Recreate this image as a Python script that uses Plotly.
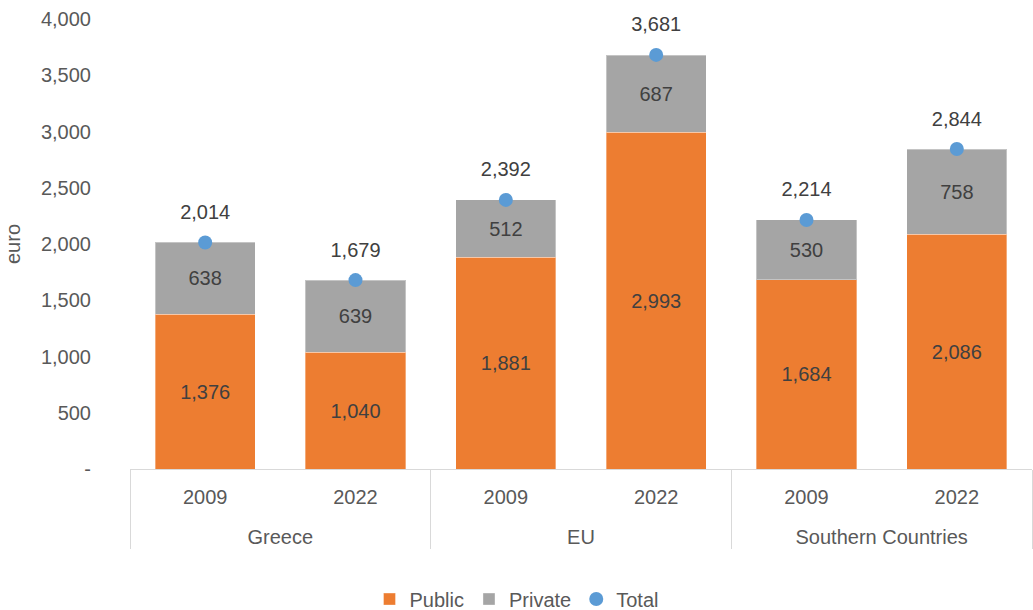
import plotly.graph_objects as go

# Spending per capita, euro
regions = ["Greece", "Greece", "EU", "EU", "Southern Countries", "Southern Countries"]
years = ["2009", "2022", "2009", "2022", "2009", "2022"]
public = [1376, 1040, 1881, 2993, 1684, 2086]
private = [638, 639, 512, 687, 530, 758]
total = [2014, 1679, 2392, 3681, 2214, 2844]

y_ticks = [0, 500, 1000, 1500, 2000, 2500, 3000, 3500, 4000]
y_tick_text = ["-", "500", "1,000", "1,500", "2,000", "2,500", "3,000", "3,500", "4,000"]

FONT = "Liberation Sans, Arial, sans-serif"
SIZE = 20
LABEL = "#404040"
AXIS_TEXT = "#595959"

# region names sit one line lower, under the year row
x = [["<br>" + r for r in regions], years]

fig = go.Figure()
fig.add_trace(go.Bar(
    x=x, y=public, name="Public",
    marker=dict(color="#ED7D31", line=dict(color="rgba(255,255,255,0.35)", width=1)),
    text=[f"{v:,}" for v in public], textposition="inside",
    insidetextanchor="middle", textangle=0,
    textfont=dict(color=LABEL, size=SIZE, family=FONT),
    hoverinfo="skip",
))
fig.add_trace(go.Bar(
    x=x, y=private, name="Private",
    marker=dict(color="#A5A5A5", line=dict(color="rgba(255,255,255,0.35)", width=1)),
    text=[f"{v:,}" for v in private], textposition="inside",
    insidetextanchor="middle", textangle=0,
    textfont=dict(color=LABEL, size=SIZE, family=FONT),
    hoverinfo="skip",
))
fig.add_trace(go.Scatter(
    x=x, y=total, name="Total", mode="markers",
    marker=dict(color="#5B9BD5", size=14),
    cliponaxis=False,
    hoverinfo="skip",
))
# total value labels, held a little higher above the dots
fig.add_trace(go.Scatter(
    x=x, y=total, mode="markers+text", showlegend=False,
    marker=dict(color="rgba(0,0,0,0)", size=28),
    text=[f"{v:,}" for v in total], textposition="top center",
    textfont=dict(color=LABEL, size=SIZE, family=FONT),
    cliponaxis=False,
    hoverinfo="skip",
))

fig.update_layout(
    width=1033, height=610,
    margin=dict(l=130, r=1, t=19, b=141, autoexpand=False),
    barmode="stack", bargap=0.333,
    plot_bgcolor="white", paper_bgcolor="white",
    font=dict(family=FONT, size=SIZE, color=AXIS_TEXT),
    showlegend=True,
    legend=dict(
        orientation="h", xref="container", yref="paper",
        x=0.5, xanchor="center", y=-0.289, yanchor="middle",
        font=dict(size=SIZE, color=AXIS_TEXT, family=FONT),
        itemwidth=30, traceorder="normal",
    ),
    xaxis=dict(
        type="multicategory",
        showline=True, linecolor="#D9D9D9", linewidth=1,
        showdividers=True, dividercolor="#D9D9D9", dividerwidth=1,
        ticks="", ticklabelstandoff=10,
        showgrid=False,
        tickfont=dict(size=SIZE, color=AXIS_TEXT, family=FONT),
    ),
    yaxis=dict(
        range=[0, 4000], tickvals=y_ticks, ticktext=y_tick_text,
        showgrid=False, zeroline=False, showline=False,
        ticks="", ticklabelstandoff=38,
        tickfont=dict(size=SIZE, color=AXIS_TEXT, family=FONT),
        title=dict(text="euro", font=dict(size=SIZE, color=AXIS_TEXT, family=FONT), standoff=14),
    ),
)

fig.write_html("out.html")
